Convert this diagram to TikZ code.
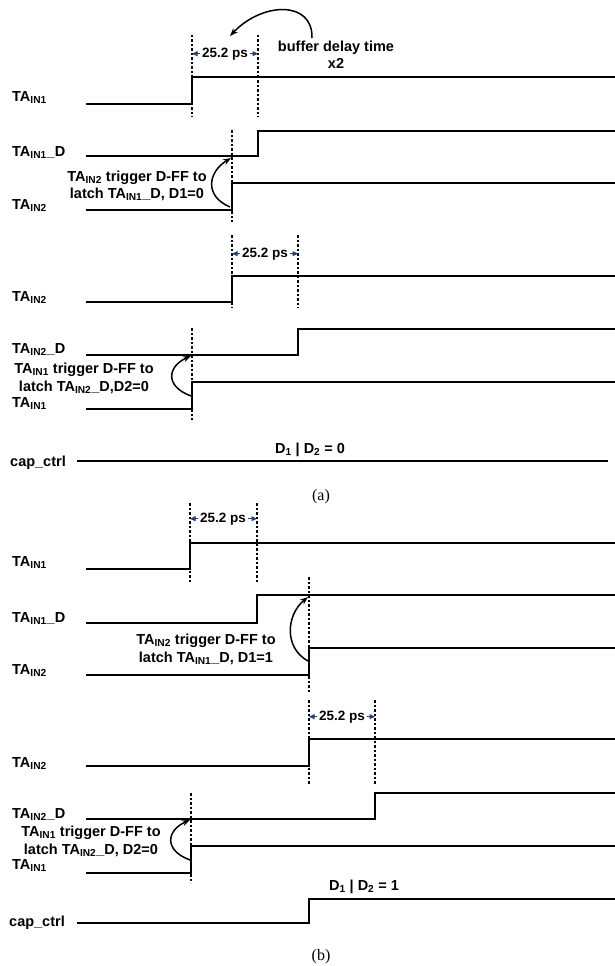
\documentclass[tikz,border=0pt]{standalone}
\usepackage{fontspec}
\setmainfont{Liberation Sans}
\newfontfamily\capfont{Liberation Serif}
\usetikzlibrary{arrows.meta}
\definecolor{dimblue}{RGB}{40,62,110}
\newcommand{\TAone}{TA\textsubscript{IN1}}
\newcommand{\TAtwo}{TA\textsubscript{IN2}}
\begin{document}
\begin{tikzpicture}[x=1pt,y=-1pt,
  sig/.style={line width=2pt, line join=miter},
  vdash/.style={line width=1.4pt, dash pattern=on 2.5pt off 2pt},
  lbl/.style={anchor=base west, inner sep=0pt, font=\fontsize{14.5}{16}\selectfont\bfseries},
  note/.style={anchor=base, inner sep=0pt, font=\fontsize{14.5}{16}\selectfont\bfseries},
  dimtxt/.style={anchor=base, inner sep=1.5pt, font=\fontsize{13.5}{15}\selectfont\bfseries},
  dimarr/.style={draw=dimblue, line width=1pt, -{Triangle[length=5.5pt,width=5pt]}, fill=dimblue},
  curv/.style={line width=1.5pt, -{Stealth[length=8pt,width=6pt]}},
  captxt/.style={anchor=base, inner sep=0pt, font=\capfont\fontsize{16}{18}\selectfont}
]
\useasboundingbox (0,0) rectangle (615,966);

% ================= panel (a) =================
% group 1
\draw[vdash] (192,35) coordinate (a1t) -- (192,117);
\draw[vdash] (258,35) coordinate (a2t) -- (258,117);
\node[dimtxt] (ad1) at (225,57) {25.2 ps};
\draw[dimarr] (ad1.west) -- (ad1.west -| a1t);
\draw[dimarr] (ad1.east) -- (ad1.east -| a2t);
\node[note] (buf1) at (336,52) {buffer delay time};
\node[note] (buf2) at (336,68) {x2};
\draw[curv] (312,38) .. controls (313,0) and (262,2) .. (230,36);

\node[lbl] (la1) at (12,101) {\TAone};
\draw[sig] (86,104) -- (192,104) -- (192,77) -- (615,77);
\node[lbl] (la2) at (12,156) {\TAone\_D};
\draw[sig] (86,156) -- (258,156) -- (258,131) -- (615,131);
\draw[vdash] (232,130) -- (232,222);
\node[note] (ta1) at (137,181) {\TAtwo{} trigger D-FF to};
\node[note] (ta2) at (137,198) {latch \TAone\_D, D1=0};
\draw[curv] (230,207) .. controls (204,196) and (208,172) .. (231,158);
\node[lbl] (la3) at (12,209) {\TAtwo};
\draw[sig] (86,210) -- (232,210) -- (232,183) -- (615,183);

% group 2
\draw[vdash] (232,235) coordinate (a3t) -- (232,308);
\draw[vdash] (298,235) coordinate (a4t) -- (298,308);
\node[dimtxt] (ad2) at (265,257) {25.2 ps};
\draw[dimarr] (ad2.west) -- (ad2.west -| a3t);
\draw[dimarr] (ad2.east) -- (ad2.east -| a4t);
\node[lbl] (la4) at (12,301) {\TAtwo};
\draw[sig] (86,302) -- (232,302) -- (232,276) -- (615,276);
\node[lbl] (la5) at (12,353) {\TAtwo\_D};
\draw[sig] (86,355) -- (298,355) -- (298,329) -- (615,329);
\draw[vdash] (192,328) -- (192,420);
\node[note] (tb1) at (84,373) {\TAone{} trigger D-FF to};
\node[note] (tb2) at (84,391) {latch \TAtwo\_D,D2=0};
\draw[curv] (191,396) .. controls (164,386) and (168,366) .. (191,356);
\node[lbl] (la6) at (12,407) {\TAone};
\draw[sig] (86,409) -- (192,409) -- (192,382) -- (615,382);

\node[lbl] (la7) at (10,466) {cap\_ctrl};
\draw[sig] (77,461) -- (608,461);
\node[note] (ca) at (310,453) {D\textsubscript{1} | D\textsubscript{2} = 0};
\node[captxt] (capa) at (321,500) {(a)};

% ================= panel (b) =================
\draw[vdash] (190,503) coordinate (b1t) -- (190,582);
\draw[vdash] (257,503) coordinate (b2t) -- (257,582);
\node[dimtxt] (bd1) at (223,522) {25.2 ps};
\draw[dimarr] (bd1.west) -- (bd1.west -| b1t);
\draw[dimarr] (bd1.east) -- (bd1.east -| b2t);
\node[lbl] (lb1) at (12,566) {\TAone};
\draw[sig] (86,569) -- (190,569) -- (190,543) -- (615,543);
\node[lbl] (lb2) at (12,622) {\TAone\_D};
\draw[sig] (86,623) -- (257,623) -- (257,595) -- (615,595);
\draw[vdash] (309,577) -- (309,693);
\node[note] (tc1) at (206,644) {\TAtwo{} trigger D-FF to};
\node[note] (tc2) at (206,662) {latch \TAone\_D, D1=1};
\draw[curv] (308,661) .. controls (284,648) and (286,615) .. (308,597);
\node[lbl] (lb3) at (12,674) {\TAtwo};
\draw[sig] (86,675) -- (309,675) -- (309,648) -- (615,648);

\draw[vdash] (309,700) coordinate (b3t) -- (309,785);
\draw[vdash] (375,700) coordinate (b4t) -- (375,785);
\node[dimtxt] (bd2) at (342,720) {25.2 ps};
\draw[dimarr] (bd2.west) -- (bd2.west -| b3t);
\draw[dimarr] (bd2.east) -- (bd2.east -| b4t);
\node[lbl] (lb4) at (12,767) {\TAtwo};
\draw[sig] (86,766) -- (309,766) -- (309,739) -- (615,739);
\node[lbl] (lb5) at (12,818) {\TAtwo\_D};
\draw[sig] (86,819) -- (375,819) -- (375,793) -- (615,793);
\draw[vdash] (191,793) -- (191,883);
\node[note] (td1) at (91,836) {\TAone{} trigger D-FF to};
\node[note] (td2) at (91,854) {latch \TAtwo\_D, D2=0};
\draw[curv] (190,860) .. controls (163,850) and (167,830) .. (190,820);
\node[lbl] (lb6) at (12,869) {\TAone};
\draw[sig] (86,873) -- (191,873) -- (191,846) -- (615,846);

\node[lbl] (lb7) at (9,926) {cap\_ctrl};
\draw[sig] (77,923) -- (309,923) -- (309,899) -- (615,899);
\node[note] (cb) at (364,890) {D\textsubscript{1} | D\textsubscript{2} = 1};
\node[captxt] (capb) at (321,960) {(b)};
\end{tikzpicture}
\end{document}
